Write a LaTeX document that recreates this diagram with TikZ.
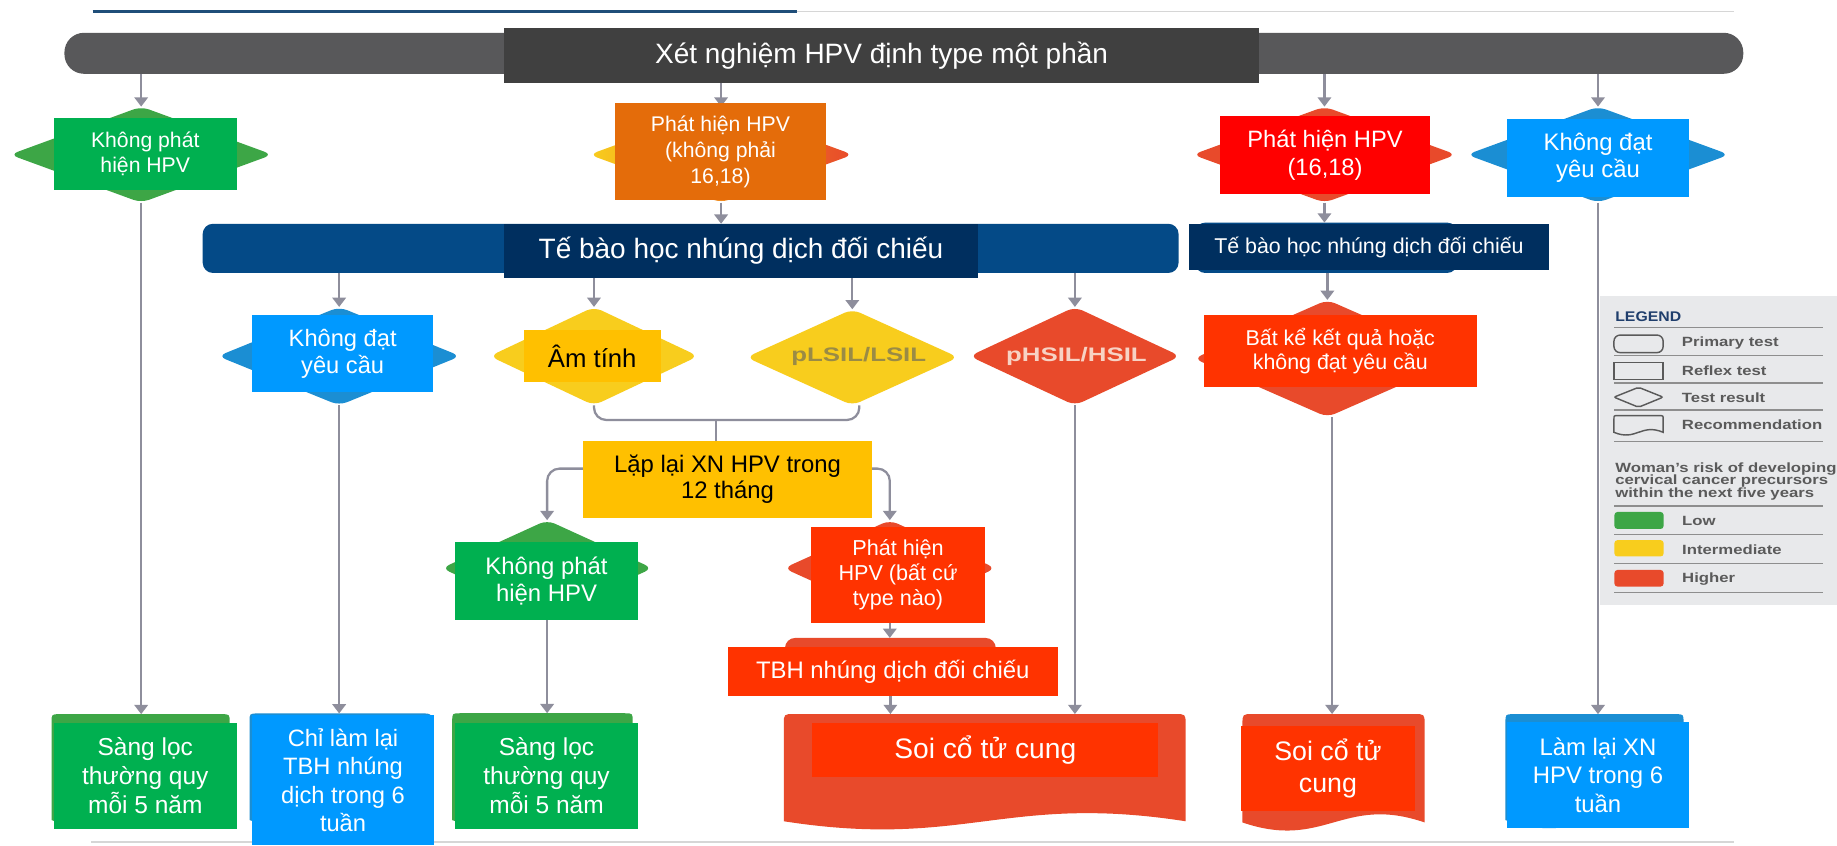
\documentclass[tikz,border=0pt]{standalone}
\usepackage{fontspec}
\setmainfont{Liberation Sans}
\usetikzlibrary{arrows.meta,shapes.geometric}

\definecolor{cBar}{HTML}{58585A}
\definecolor{cTitle}{HTML}{404040}
\definecolor{cRbar}{HTML}{044A87}
\definecolor{cNavy}{HTML}{002F5F}
\definecolor{cDGreen}{HTML}{3DA646}
\definecolor{cOGreen}{HTML}{00B050}
\definecolor{cDRed}{HTML}{E84A2B}
\definecolor{cORed}{HTML}{FF0000}
\definecolor{cORedB}{HTML}{FF3300}
\definecolor{cDBlue}{HTML}{1B8ED3}
\definecolor{cOBlue}{HTML}{0099FF}
\definecolor{cDYellow}{HTML}{F8CD1D}
\definecolor{cOYellow}{HTML}{FFC000}
\definecolor{cDOrange}{HTML}{F08A1E}
\definecolor{cOOrange}{HTML}{E46C0A}
\definecolor{cConn}{HTML}{8E8E9C}
\definecolor{cPanel}{HTML}{E8E9EB}
\definecolor{cLgText}{HTML}{5A5A5A}
\definecolor{cLgBlue}{HTML}{1F3E6C}
\definecolor{cLgLine}{HTML}{8E8E8E}
\definecolor{cTopRule}{HTML}{1F4E79}
\definecolor{cRule}{HTML}{D6D6D6}
\definecolor{cLsil}{HTML}{9A8B45}
\definecolor{cHsil}{HTML}{F7D2C4}

\newcommand\setfs[2]{\fontsize{#1}{#2}\selectfont}
% document shape: style, left, top, right, bottom of wave ends, wave amplitude, corner radius
\newcommand\recdoc[7]{%
  \path[#1] ({#4},{#5}) .. controls ({#4-0.45*(#4-#2)},{#5-#6}) and ({#2+0.45*(#4-#2)},{#5+#6}) .. ({#2},{#5})
    -- ({#2},{#3+#7}) .. controls ({#2},{#3}) .. ({#2+#7},{#3})
    -- ({#4-#7},{#3}) .. controls ({#4},{#3}) .. ({#4},{#3+#7}) -- cycle;}

\pgfdeclarelayer{top}
\pgfsetlayers{main,top}

\begin{document}
\begin{tikzpicture}[x=0.02cm, y=-0.02cm,
  conn/.style={draw=cConn, line width=1.1pt},
  arr/.style={conn, -{Triangle[width=6.5pt,length=4.5pt]}},
  sz/.style 2 args={minimum width=#1*0.02cm, minimum height=#2*0.02cm},
  ovl/.style={rectangle, inner sep=0pt, outer sep=0pt, align=center, text=white},
  dia/.style={diamond, inner sep=0pt, outer sep=0pt, rounded corners=4pt},
  bar/.style={rectangle, inner sep=0pt, outer sep=0pt},
  lgtext/.style={anchor=west, inner sep=0pt, text=cLgText, font=\setfs{6.5}{7}\bfseries},
  lgline/.style={draw=cLgLine, line width=0.7pt},
  lgicon/.style={draw=cLgText, line width=0.7pt}]

\fill[white] (0,0) rectangle (1568,722);
\useasboundingbox (0,0) rectangle (1568,722);

% page rules
\draw[line width=1.6pt, cTopRule] (79,10) -- (680,10);
\draw[line width=0.6pt, cRule] (680,10) -- (1480,10);
\draw[line width=1pt, cRule] (78,719) -- (1480,719);

% primary test bar
\node[bar, rounded corners=9.5pt, fill=cBar, sz={1433}{35}] (pbar) at (771.5,45.5) {};

% first row of results
\node[dia, fill=cDGreen, sz={224}{82}] (d1) at (120.5,132) {};
\node[dia, left color=cDYellow, right color=cDRed, middle color=cDOrange, sz={225}{82}] (d2) at (615.5,132) {};
\node[dia, fill=cDRed, sz={225}{82}] (d3) at (1130.5,132) {};
\node[dia, fill=cDBlue, sz={224}{82}] (d4) at (1364,132) {};

% reflex cytology bars
\node[bar, rounded corners=5pt, fill=cRbar, sz={833}{42}] (rbar) at (589.5,212) {};
\node[bar, rounded corners=5pt, fill=cRbar, sz={224}{43}] (rbar2) at (1132,211.5) {};

% second row of results
\node[dia, fill=cDBlue, sz={207}{84}] (e1) at (289.5,304) {};
\node[dia, fill=cDYellow, sz={178}{84}] (e2) at (507,304) {};
\node[dia, fill=cDYellow, sz={181}{82}] (e3) at (727.5,305) {};
\node[dia, fill=cDRed, sz={180}{84}] (e4) at (917.5,304) {};
\node[dia, fill=cDRed, sz={228}{100}] (e5) at (1133,306) {};
\node[inner sep=0pt, text=cLsil, font=\setfs{9.5}{11}\bfseries] (lsil) at (733,304.4) {\scalebox{1.32}[1]{pLSIL/LSIL}};
\node[inner sep=0pt, text=cHsil, font=\setfs{9.5}{11}\bfseries] (hsil) at (918.8,304.4) {\scalebox{1.32}[1]{pHSIL/HSIL}};

% third row of results
\node[dia, fill=cDGreen, sz={180}{82}] (f1) at (467,485) {};
\node[dia, fill=cDRed, sz={181}{82}] (f2) at (759.5,485) {};
\node[bar, rounded corners=5pt, fill=cDRed, sz={180}{45}] (tb) at (760,567) {};

% recommendations
\recdoc{fill=cDGreen}{44}{609.6}{196}{700}{24}{7}
\recdoc{fill=cDBlue}{213}{609}{368}{700}{24}{7}
\recdoc{fill=cDGreen}{386}{608.8}{540}{700}{24}{7}
\recdoc{fill=cDRed}{669}{609.5}{1012}{701}{24}{9}
\recdoc{fill=cDRed}{1060.5}{609.5}{1216}{702}{24}{9}
\recdoc{fill=cDBlue}{1285}{609.6}{1437}{700}{24}{7}

\coordinate (t1) at (120.5,609.6);
\coordinate (t2) at (289.5,609);
\coordinate (t3) at (467,608.8);
\coordinate (t4a) at (760,609.5);
\coordinate (t4b) at (917.5,609.5);
\coordinate (t5) at (1137,609.5);
\coordinate (t6) at (1364,609.6);
\coordinate (bj) at (611,358.5);
\coordinate (qy) at (0,400);

% text boxes
\begin{pgfonlayer}{top}
\node[ovl, fill=cTitle, sz={645}{47}, font=\setfs{13.6}{16}] (title) at (752.5,47.5) {Xét nghiệm HPV định type một phần};
\node[ovl, fill=cOGreen, sz={156}{61}, font=\setfs{10.3}{12}] (o1) at (124,131.5) {Không phát\\hiện HPV};
\node[ovl, fill=cOOrange, sz={180}{83}, font=\setfs{10.3}{12.5}] (o2) at (615,129.5) {Phát hiện HPV\\(không phải\\16,18)};
\node[ovl, fill=cORed, sz={180}{67}, font=\setfs{11.5}{13.8}] (o3) at (1131,132.5) {Phát hiện HPV\\(16,18)};
\node[ovl, fill=cOBlue, sz={156}{66}, font=\setfs{11.6}{13}] (o4) at (1364,135) {Không đạt\\yêu cầu};
\node[ovl, fill=cNavy, sz={405}{46}, font=\setfs{13.6}{16}] (ro) at (632.5,214) {Tế bào học nhúng dịch đối chiếu};
\node[ovl, fill=cNavy, sz={307}{39}, font=\setfs{10.4}{12}] (ro2) at (1168.5,211) {Tế bào học nhúng dịch đối chiếu};
\node[ovl, fill=cOBlue, sz={155}{66}, font=\setfs{11.5}{13}] (p1) at (292.5,302) {Không đạt\\yêu cầu};
\node[ovl, fill=cOYellow, text=black, sz={117}{44}, font=\setfs{12.5}{14}] (p2) at (505.5,304) {Âm tính};
\node[ovl, fill=cORedB, sz={233}{61}, font=\setfs{10.4}{11.8}] (p5) at (1144,299.5) {Bất kể kết quả hoặc\\không đạt yêu cầu};
\node[ovl, fill=cOYellow, text=black, sz={246}{66}, font=\setfs{11.6}{13}] (q) at (621,409) {Lặp lại XN HPV trong\\12 tháng};
\node[ovl, fill=cOGreen, sz={156}{66}, font=\setfs{11.6}{13}] (g3) at (466.5,496) {Không phát\\hiện HPV};
\node[ovl, fill=cORedB, sz={149}{82.5}, font=\setfs{10.5}{12.3}] (r4) at (766.5,490.75) {Phát hiện\\HPV (bất cứ\\type nào)};
\node[ovl, fill=cORedB, sz={282}{42}, font=\setfs{11.6}{14}] (tbo) at (762,573) {TBH nhúng dịch đối chiếu};
\node[ovl, fill=cOGreen, sz={156}{91}, font=\setfs{11.9}{14}] (s1) at (124,662.25) {Sàng lọc\\thường quy\\mỗi 5 năm};
\node[ovl, fill=cOBlue, sz={155.6}{111}, font=\setfs{11.5}{13.8}] (s2) at (292.8,665.8) {Chỉ làm lại\\TBH nhúng\\dịch trong 6\\tuần};
\node[ovl, fill=cOGreen, sz={156}{91}, font=\setfs{11.9}{14}] (s3) at (466.5,662.2) {Sàng lọc\\thường quy\\mỗi 5 năm};
\node[ovl, fill=cORedB, sz={295}{46}, font=\setfs{13.7}{16}] (s4) at (841,640) {Soi cổ tử cung};
\node[ovl, fill=cORedB, sz={149}{72}, font=\setfs{13}{15.4}] (s5) at (1133.5,656) {Soi cổ tử\\cung};
\node[ovl, fill=cOBlue, sz={155}{90}, font=\setfs{11.6}{13.8}] (s6) at (1364,661.6) {Làm lại XN\\HPV trong 6\\tuần};
\end{pgfonlayer}

% connectors
\foreach \n in {d1,d2,d3,d4} \draw[arr] (pbar.south -| \n.north) -- (\n.north);
\draw[arr] (d2.south) -- (d2.south |- rbar.north);
\draw[arr] (d3.south) -- (d3.south |- rbar2.north);
\draw[arr] (d1.south) -- (t1);
\draw[arr] (d4.south) -- (t6);
\foreach \n in {e1,e2,e3,e4} \draw[arr] (rbar.south -| \n.north) -- (\n.north);
\draw[arr] (rbar2.south -| e5.north) -- (e5.north);
\draw[arr] (e1.south) -- (t2);
\draw[arr] (e4.south) -- (t4b);
\draw[arr] (e5.south -| t5) -- (t5);
\draw[conn, rounded corners=6pt] (e2.south) |- (bj) -| ([xshift=3.4pt]e3.south);
\draw[conn] (bj) -- (bj |- q.north);
\draw[arr, rounded corners=6pt] (q.west |- qy) -| (f1.north);
\draw[arr, rounded corners=6pt] (q.east |- qy) -| (f2.north);
\draw[arr] (f1.south) -- (t3);
\draw[arr] (f2.south) -- (f2.south |- tb.north);
\draw[arr] (tb.south) -- (t4a);

% legend
\fill[cPanel] (1366,252.6) rectangle (1568,516.4);
\node[anchor=west, inner sep=0pt, text=cLgBlue, font=\setfs{6.8}{8}\bfseries] (lgt) at (1378.4,270.3) {\scalebox{1.13}[1]{LEGEND}};
\foreach \yy in {279.4,303.5,326.9,349.9,377,431.9,456,480.8,505.8}
  \draw[lgline] (1378,\yy) -- (1556,\yy);
\draw[lgicon, rounded corners=3pt] (1377.6,286) rectangle (1419.6,301);
\draw[lgicon] (1377.6,309.5) rectangle (1419.6,323.7);
\draw[lgicon, rounded corners=1pt] (1377.6,339) -- (1398.6,330.6) -- (1419.6,339) -- (1398.6,347.6) -- cycle;
\recdoc{lgicon}{1377.6}{354.8}{1419.6}{369}{8}{3}
\node[lgtext] (lg1) at (1435.3,293) {\scalebox{1.25}[1]{Primary test}};
\node[lgtext] (lg2) at (1435.3,316.4) {\scalebox{1.25}[1]{Reflex test}};
\node[lgtext] (lg3) at (1435.3,339.4) {\scalebox{1.25}[1]{Test result}};
\node[lgtext] (lg4) at (1435.3,362.7) {\scalebox{1.25}[1]{Recommendation}};
\node[lgtext] (lr1) at (1378.4,400.5) {\scalebox{1.25}[1]{Woman's risk of developing}};
\node[lgtext] (lr2) at (1378.4,411) {\scalebox{1.25}[1]{cervical cancer precursors}};
\node[lgtext] (lr3) at (1378.4,421.5) {\scalebox{1.25}[1]{within the next five years}};
\fill[cDGreen, rounded corners=1.5pt] (1378,437) rectangle (1420,451.5);
\fill[cDYellow, rounded corners=1.5pt] (1378,461) rectangle (1420,475);
\fill[cDRed, rounded corners=1.5pt] (1378,486.5) rectangle (1420,500.7);
\node[lgtext] (lk1) at (1435.5,444.5) {\scalebox{1.25}[1]{Low}};
\node[lgtext] (lk2) at (1435.5,469.4) {\scalebox{1.25}[1]{Intermediate}};
\node[lgtext] (lk3) at (1435.5,494.4) {\scalebox{1.25}[1]{Higher}};
\end{tikzpicture}
\end{document}
